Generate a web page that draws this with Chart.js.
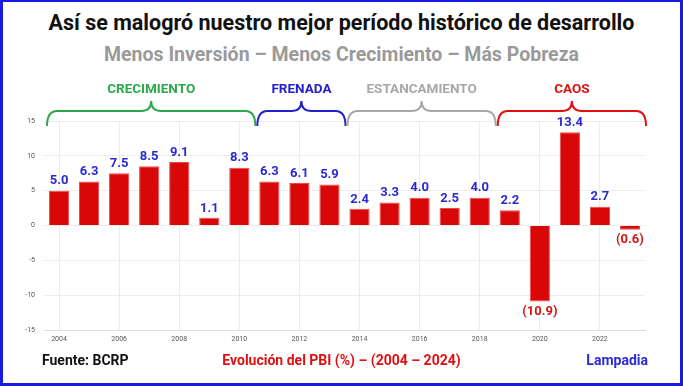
<!DOCTYPE html>
<html>
<head>
<meta charset="utf-8">
<script src="https://cdn.jsdelivr.net/npm/chart.js@4"></script>
<style>
    html, body { margin: 0; padding: 0; background: #fff; }
    .frame {
        position: relative; width: 683px; height: 386px; box-sizing: border-box;
        border: 3px solid #1a1ae6; border-top-width: 2px; overflow: hidden;
        font-family: Roboto, 'Noto Sans', sans-serif;
    }
    canvas { position: absolute; left: -3px; top: -2px; }
    .txt { position: absolute; white-space: nowrap; font-weight: bold; }
    #title { left: 0; width: 677px; top: 8px; text-align: center; font-size: 21.5px; color: #111; }
    #subtitle { left: 0; width: 677px; top: 41px; text-align: center; font-size: 19.5px; color: #9a9a9a; }
    #fuente { left: 39px; top: 350px; font-size: 14px; color: #111; }
    #pbi { left: 0; width: 677px; top: 350px; text-align: center; font-size: 14px; color: #e01010; }
    #lampadia { right: 32px; top: 350px; font-size: 14px; color: #2a2ad8; }
</style>
</head>
<body>
<div class="frame">
    <div class="txt" id="title">Así se malogró nuestro mejor período histórico de desarrollo</div>
    <div class="txt" id="subtitle">Menos Inversión – Menos Crecimiento – Más Pobreza</div>
    <canvas id="chart_pbi" width="683" height="386"></canvas>
    <div class="txt" id="fuente">Fuente: BCRP</div>
    <div class="txt" id="pbi">Evolución del PBI (%) – (2004 – 2024)</div>
    <div class="txt" id="lampadia">Lampadia</div>
</div>
<script>
const years = ['2004', '2005', '2006', '2007', '2008', '2009', '2010', '2011', '2012', '2013',
    '2014', '2015', '2016', '2017', '2018', '2019', '2020', '2021', '2022', '2023'];
const pbi = [5.0, 6.3, 7.5, 8.5, 9.1, 1.1, 8.3, 6.3, 6.1, 5.9,
    2.4, 3.3, 4.0, 2.5, 4.0, 2.2, -10.9, 13.4, 2.7, -0.6];
const yTicks = [-15, -10, -5, 0, 5, 10, 15];

// periodos: nombre, primer y último índice, color
const periodoNombres = ['CRECIMIENTO', 'FRENADA', 'ESTANCAMIENTO', 'CAOS'];
const periodoDesde = [0, 7, 10, 15];
const periodoHasta = [6, 9, 14, 19];
const periodoColores = ['#2aa84a', '#2222cc', '#a8a8a8', '#e01010'];

const valueLabels = {
    id: 'valueLabels',
    afterDatasetsDraw(chart) {
        const ctx = chart.ctx;
        const meta = chart.getDatasetMeta(0);
        ctx.save();
        ctx.font = 'bold 13px Roboto';
        ctx.textAlign = 'center';
        meta.data.forEach((bar, i) => {
            let v = pbi[i];
            if (v >= 0) {
                ctx.fillStyle = '#2a2ad0';
                ctx.textBaseline = 'bottom';
                ctx.fillText(v.toFixed(1), bar.x, bar.y - 3);
            } else {
                ctx.fillStyle = '#d01818';
                ctx.textBaseline = 'top';
                ctx.fillText('(' + Math.abs(v).toFixed(1) + ')', bar.x, bar.y + 4);
            }
        });
        ctx.restore();
    }
};

const braces = {
    id: 'braces',
    afterDraw(chart) {
        const ctx = chart.ctx;
        const x = chart.scales.x;
        const half = (x.getPixelForValue(1) - x.getPixelForValue(0)) / 2;
        const yEnd = chart.chartArea.top + 5;
        const yLine = yEnd - 15;
        const yPeak = yLine - 10;
        ctx.save();
        periodoNombres.forEach((nombre, i) => {
            let x0 = x.getPixelForValue(periodoDesde[i]) - half + 3;
            let x1 = x.getPixelForValue(periodoHasta[i]) + half + 1;
            let xm = (x0 + x1) / 2;
            let r = 10;
            ctx.strokeStyle = periodoColores[i];
            ctx.lineWidth = 2;
            ctx.beginPath();
            ctx.moveTo(x0, yEnd);
            ctx.quadraticCurveTo(x0, yLine, x0 + r, yLine);
            ctx.lineTo(xm - r, yLine);
            ctx.quadraticCurveTo(xm, yLine, xm, yPeak);
            ctx.quadraticCurveTo(xm, yLine, xm + r, yLine);
            ctx.lineTo(x1 - r, yLine);
            ctx.quadraticCurveTo(x1, yLine, x1, yEnd);
            ctx.stroke();
            ctx.fillStyle = periodoColores[i];
            ctx.font = 'bold 13.5px Roboto';
            ctx.textAlign = 'center';
            ctx.textBaseline = 'middle';
            ctx.fillText(nombre, xm, yPeak - 11);
        });
        ctx.restore();
    }
};

new Chart(document.getElementById('chart_pbi'), {
    type: 'bar',
    data: {
        labels: years,
        datasets: [{
            data: pbi,
            backgroundColor: '#d80808',
            borderColor: '#f04848',
            borderWidth: 1,
            barPercentage: 0.8,
            categoryPercentage: 0.84,
        }]
    },
    options: {
        responsive: false,
        animation: false,
        layout: { padding: { left: 0, top: 121, right: 38, bottom: 0 } },
        plugins: {
            legend: { display: false },
            tooltip: { enabled: false },
        },
        scales: {
            x: {
                afterFit: (scale) => { scale.height = 56; },
                grid: {
                    offset: false,
                    drawTicks: false,
                    color: (c) => (c.index % 2 === 0 ? '#ececec' : 'rgba(0,0,0,0)'),
                },
                border: { color: '#dddddd' },
                ticks: {
                    autoSkip: false,
                    maxRotation: 0,
                    padding: 5,
                    color: '#555',
                    font: { size: 7, family: 'Roboto' },
                    callback: (v, i) => (i % 2 === 0 ? years[i] : ''),
                },
            },
            y: {
                min: -15,
                max: 15,
                afterFit: (scale) => { scale.width = 44; },
                afterBuildTicks: (scale) => { scale.ticks = yTicks.map(v => ({ value: v })); },
                grid: { drawTicks: false, color: '#ececec' },
                border: { display: false },
                ticks: {
                    padding: 9,
                    color: '#555',
                    font: { size: 7, family: 'Roboto' },
                },
            },
        },
    },
    plugins: [valueLabels, braces],
});
</script>
</body>
</html>
